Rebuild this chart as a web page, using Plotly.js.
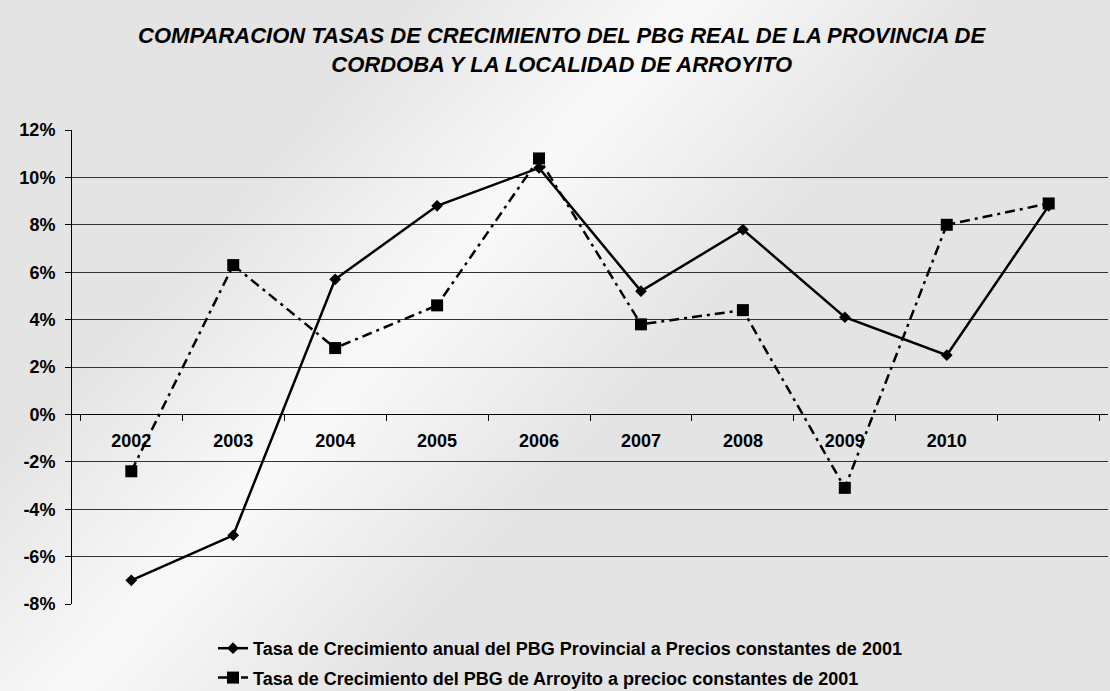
<!DOCTYPE html>
<html>
<head>
<meta charset="utf-8">
<script src="https://cdn.plot.ly/plotly-3.0.1.min.js"></script>
<style>
  html, body { margin: 0; padding: 0; }
  #chart {
    width: 1110px;
    height: 691px;
    background: linear-gradient(132deg, #e4e4e4 0%, #e4e4e4 24%, #f9f9f9 40%, #e4e4e4 57%, #e4e4e4 100%);
  }
</style>
</head>
<body>
<div id="chart"></div>
<script>
// categories (last one has no label in the original)
let years = ['2002', '2003', '2004', '2005', '2006', '2007', '2008', '2009', '2010', ' '];

// growth rates in %
let provincial = [-7.0, -5.1, 5.7, 8.8, 10.4, 5.2, 7.8, 4.1, 2.5, 8.8];
let arroyito = [-2.4, 6.3, 2.8, 4.6, 10.8, 3.8, 4.4, -3.1, 8.0, 8.9];

// y ticks
let yTicks = [-8, -6, -4, -2, 0, 2, 4, 6, 8, 10, 12];

let seriesNames = [
    'Tasa de Crecimiento anual del PBG Provincial a Precios constantes de 2001',
    'Tasa de Crecimiento del PBG de Arroyito a precioc constantes de 2001'
];

let font = 'Liberation Sans, Arial, sans-serif';

let trace1 = {
    x: years,
    y: provincial,
    mode: 'lines+markers',
    name: seriesNames[0],
    legendgroup: 'a',
    line: { color: '#000', width: 2.5 },
    marker: { symbol: 'diamond', size: 9, color: '#000' }
};

let trace2 = {
    x: years,
    y: arroyito,
    mode: 'lines+markers',
    name: seriesNames[1],
    legendgroup: 'b',
    line: { color: '#000', width: 2.5, dash: '10px,5px,3px,5px' },
    marker: { symbol: 'square', size: 12, color: '#000' }
};

let yMin = yTicks[0], yMax = yTicks[yTicks.length - 1];

let layout = {
    width: 1110,
    height: 691,
    paper_bgcolor: 'rgba(0,0,0,0)',
    plot_bgcolor: 'rgba(0,0,0,0)',
    margin: { l: 72, r: 2, t: 130, b: 87, autoexpand: false },
    title: {
        text: 'COMPARACION TASAS DE CRECIMIENTO DEL PBG REAL DE LA PROVINCIA DE<br>CORDOBA Y LA LOCALIDAD DE ARROYITO',
        font: { family: font, size: 22, color: '#000', weight: 'bold', style: 'italic' },
        xref: 'container', x: 0.506, xanchor: 'center',
        yref: 'container', y: 1 - 43 / 691, yanchor: 'top'
    },
    xaxis: {
        type: 'category',
        anchor: 'free',
        position: (0 - yMin) / (yMax - yMin),
        showline: true,
        linecolor: '#000',
        linewidth: 1,
        showgrid: false,
        ticks: 'outside',
        tickson: 'boundaries',
        ticklen: 6,
        tickcolor: '#000',
        tickangle: 0,
        ticklabelstandoff: 10,
        tickfont: { family: font, size: 18, color: '#000', weight: 'bold' },
        fixedrange: true
    },
    yaxis: {
        range: [yMin, yMax],
        tickmode: 'array',
        tickvals: yTicks,
        ticktext: yTicks.map(v => v + '%'),
        showgrid: true,
        gridcolor: '#333',
        gridwidth: 1,
        zeroline: false,
        showline: true,
        linecolor: '#000',
        linewidth: 1,
        ticks: 'outside',
        ticklen: 6,
        tickcolor: '#000',
        ticklabelstandoff: 6,
        tickfont: { family: font, size: 18, color: '#000', weight: 'bold' }
    },
    showlegend: true,
    legend: {
        xref: 'container', yref: 'container',
        x: 213 / 1110, xanchor: 'left',
        y: 1 - 630 / 691, yanchor: 'top',
        bgcolor: 'rgba(0,0,0,0)',
        tracegroupgap: 3,
        font: { family: font, size: 18, color: '#000', weight: 'bold' }
    }
};

Plotly.newPlot('chart', [trace1, trace2], layout, { displayModeBar: false, staticPlot: true });
</script>
</body>
</html>
